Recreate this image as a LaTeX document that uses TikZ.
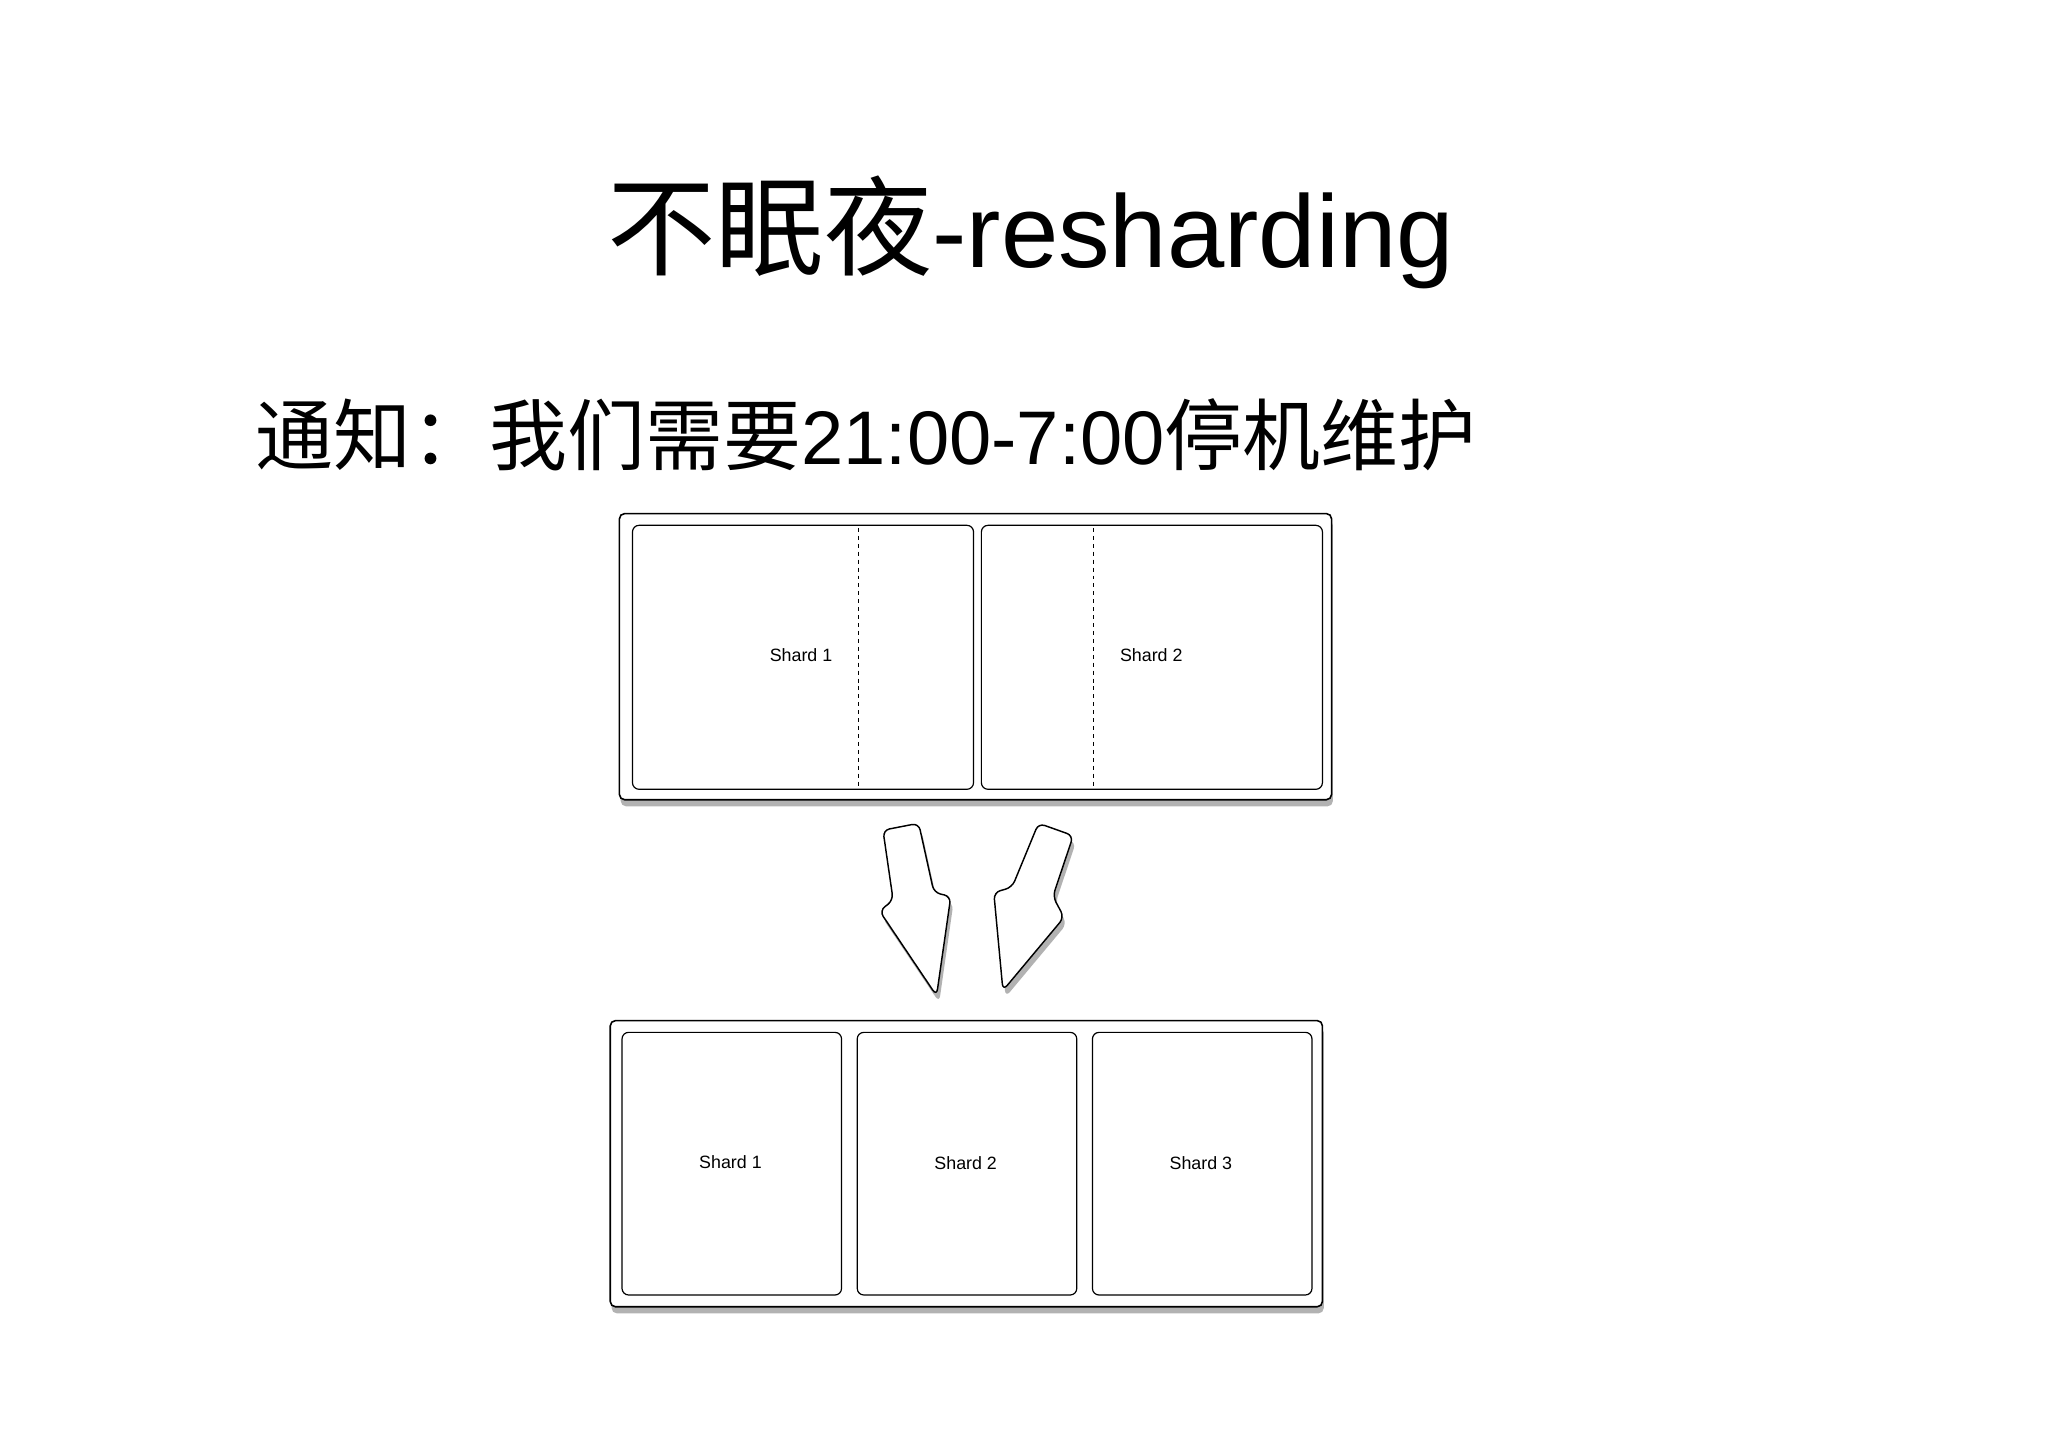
\documentclass[tikz,border=0pt]{standalone}
\usepackage{fontspec}
\setmainfont{Liberation Sans}
\newfontfamily\cjk{Noto Sans CJK SC}
\usetikzlibrary{shadows}
\begin{document}
\begin{tikzpicture}[x=1pt,y=-1pt,
  outerbox/.style={draw=black,line width=1.2pt,fill=white,rounded corners=4pt,drop shadow={shadow xshift=1pt,shadow yshift=-5pt,opacity=0.6}},
  innerbox/.style={draw=black,line width=0.9pt,rounded corners=5pt},
  lbl/.style={font=\fontsize{13.5}{15}\selectfont},
  bigarrow/.style={draw=black,line width=1.1pt,fill=white,rounded corners=5pt,drop shadow={shadow xshift=2pt,shadow yshift=-5pt,opacity=0.6}}]
\useasboundingbox (0,0) rectangle (1550,1095);
\fill[white] (0,0) rectangle (1550,1095);
\node (title) at (780,176) {\fontsize{78}{90}\selectfont{\cjk\fontsize{82}{90}\selectfont 不眠夜}-resharding};
\node[anchor=west] (notice) at (190,329) {\fontsize{57.5}{65}\selectfont{\cjk\fontsize{59}{65}\selectfont 通知：我们需要}21:00-7:00{\cjk\fontsize{59}{65}\selectfont 停机维护}};
\begin{scope}[scale=0.989]
% top
\draw[outerbox] (474,393) rectangle (1019,612);
\draw[innerbox] (484,402) rectangle (745,604);
\draw[innerbox] (751,402) rectangle (1012,604);
\draw[dashed,line width=0.7pt] (657,404) -- (657,603);
\draw[dashed,line width=0.7pt] (837,404) -- (837,603);
\node[lbl] (s1) at (613,501) {Shard 1};
\node[lbl] (s2) at (881,501) {Shard 2};
% arrows
\draw[bigarrow] (675.7,635.3) -- (703,630) -- (714.7,683) -- (727.6,686) -- (716.7,762) -- (673,697) -- (683.5,689) -- cycle;
\draw[bigarrow] (794.7,630) -- (821.3,639.5) -- (805.7,686) -- (814.3,702) -- (767.5,758) -- (760.5,683) -- (774.5,679) -- cycle;
% bottom
\draw[outerbox] (467,781) rectangle (1012,1000);
\draw[innerbox] (476,790) rectangle (644,991);
\draw[innerbox] (656,790) rectangle (824,991);
\draw[innerbox] (836,790) rectangle (1004,991);
\node[lbl] (b1) at (559,889) {Shard 1};
\node[lbl] (b2) at (739,890) {Shard 2};
\node[lbl] (b3) at (919,890) {Shard 3};
\end{scope}
\end{tikzpicture}
\end{document}
